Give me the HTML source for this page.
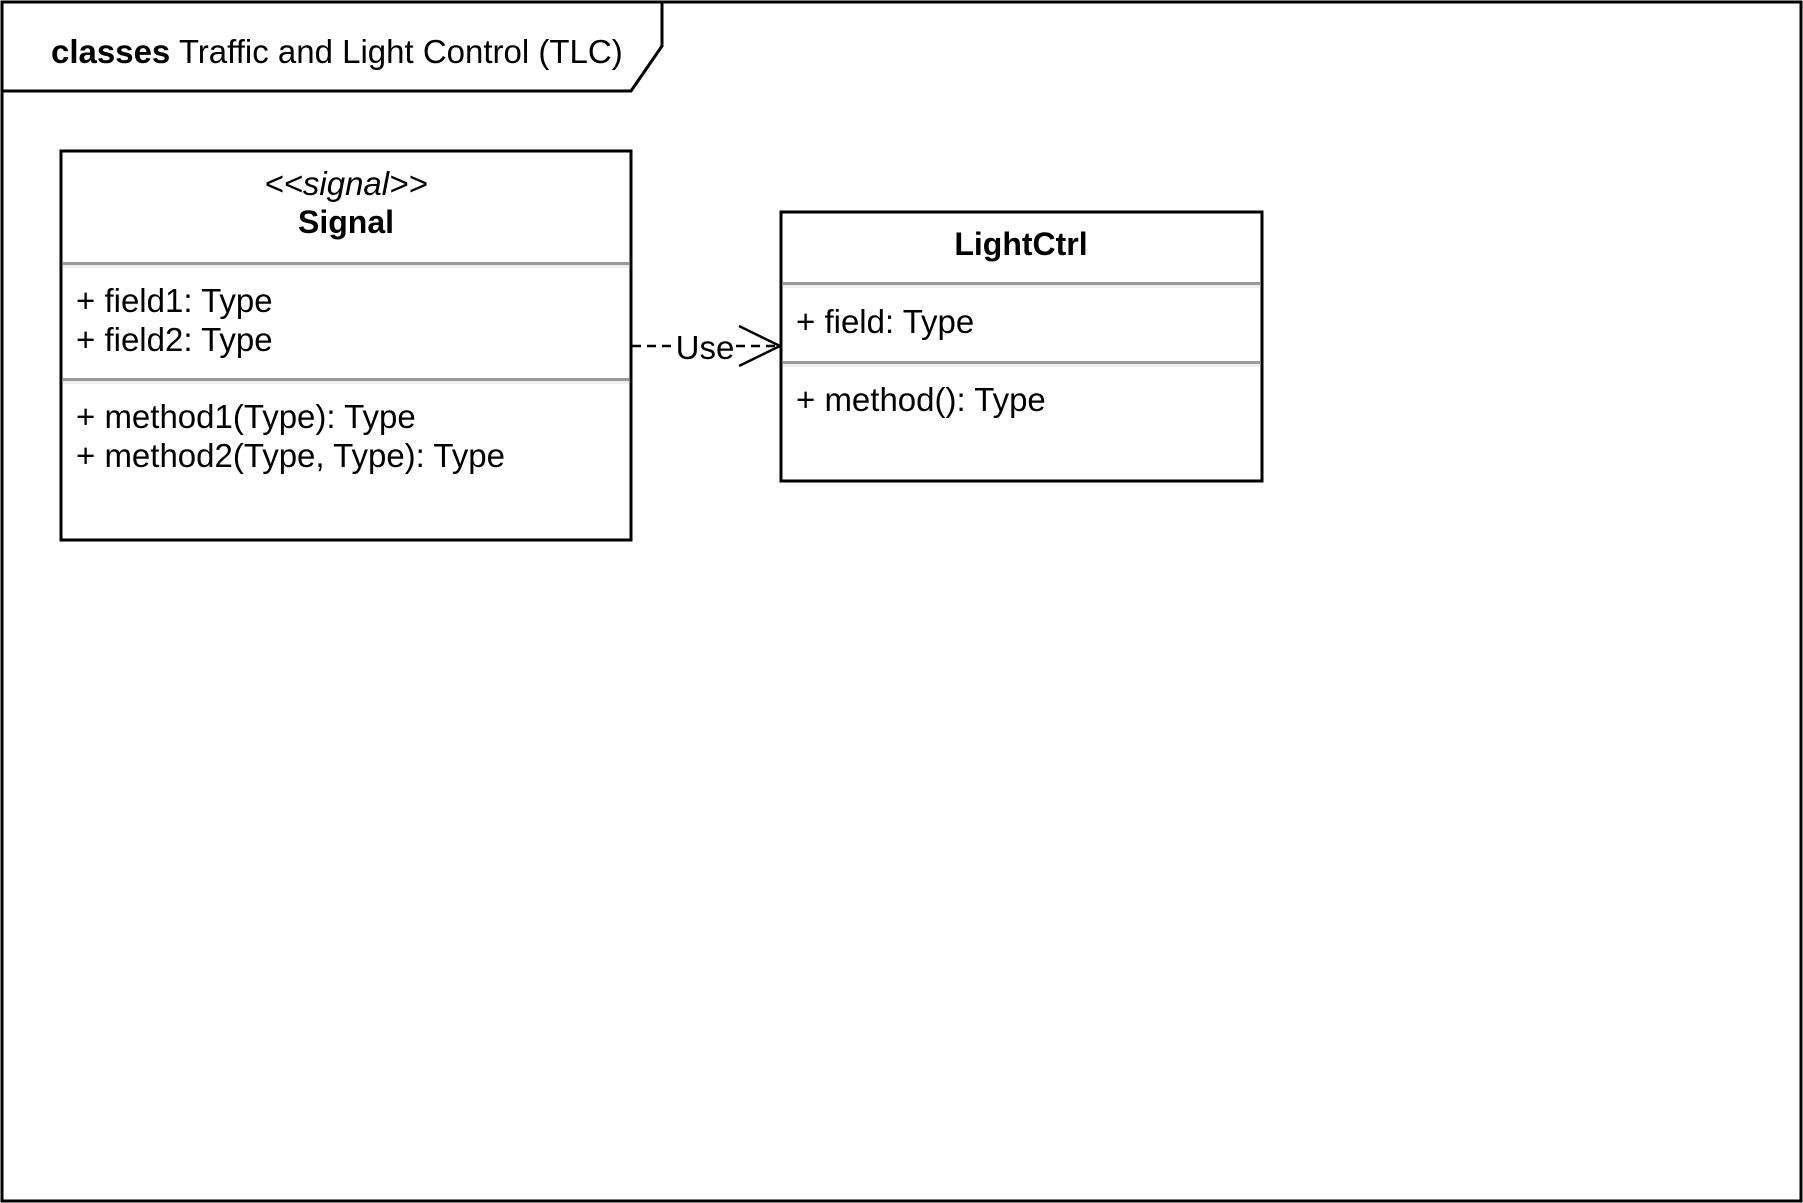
<!DOCTYPE html>
<html><head><meta charset="utf-8"><style>
html,body{margin:0;padding:0;background:#fff;}
svg{display:block;}
text{font-family:"Liberation Sans",Arial,sans-serif;fill:#000;}
</style></head><body>
<svg width="1803" height="1203" viewBox="0 0 1803 1203" xmlns="http://www.w3.org/2000/svg">
<rect x="2" y="2" width="1799" height="1199" fill="#fff" stroke="#000" stroke-width="3"/>
<path d="M2,91 L631,91 L662,46 L662,2" fill="none" stroke="#000" stroke-width="3"/>
<text x="51" y="63" font-size="33"><tspan font-weight="bold">classes</tspan> Traffic and Light Control (TLC)</text>

<!-- Signal -->
<rect x="61" y="151" width="570" height="389" fill="#fff" stroke="#000" stroke-width="3"/>
<text x="346" y="195" font-size="33" font-style="italic" text-anchor="middle">&lt;&lt;signal&gt;&gt;</text>
<text x="346" y="233" font-size="32" font-weight="bold" text-anchor="middle">Signal</text>
<rect x="63" y="262" width="566" height="3" fill="#999"/><rect x="63" y="265" width="566" height="3" fill="#eee"/>
<text x="76" y="312" font-size="33">+ field1: Type</text>
<text x="76" y="351" font-size="33">+ field2: Type</text>
<rect x="63" y="378" width="566" height="3" fill="#999"/><rect x="63" y="381" width="566" height="3" fill="#eee"/>
<text x="76" y="428" font-size="33">+ method1(Type): Type</text>
<text x="76" y="467" font-size="33">+ method2(Type, Type): Type</text>

<!-- LightCtrl -->
<rect x="781" y="212" width="481" height="269" fill="#fff" stroke="#000" stroke-width="3"/>
<text x="1021" y="255" font-size="32" font-weight="bold" text-anchor="middle">LightCtrl</text>
<rect x="783" y="282" width="477" height="3" fill="#999"/><rect x="783" y="285" width="477" height="3" fill="#eee"/>
<text x="796" y="333" font-size="33">+ field: Type</text>
<rect x="783" y="361" width="477" height="3" fill="#999"/><rect x="783" y="364" width="477" height="3" fill="#eee"/>
<text x="796" y="411" font-size="33">+ method(): Type</text>

<!-- dependency -->
<line x1="632" y1="346" x2="674" y2="346" stroke="#000" stroke-width="2.5" stroke-dasharray="9,6"/>
<line x1="736" y1="346" x2="779" y2="346" stroke="#000" stroke-width="2.5" stroke-dasharray="9,6"/>
<text x="705" y="359" font-size="33" text-anchor="middle">Use</text>
<path d="M739,326 L780,346 L739,366" fill="none" stroke="#000" stroke-width="2.5"/>
</svg>
</body></html>
